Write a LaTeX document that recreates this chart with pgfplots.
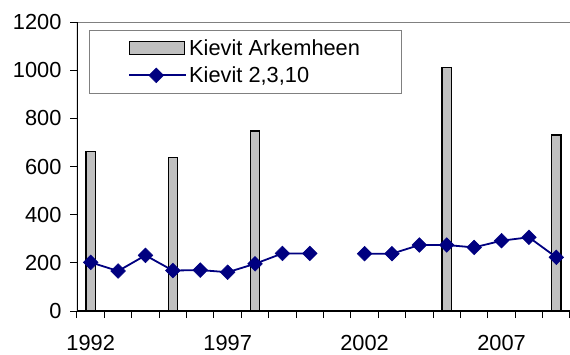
\documentclass[border=0pt]{standalone}
\usepackage{fontspec}
\setmainfont{Liberation Sans}
\usepackage{pgfplots}
\pgfplotsset{compat=1.18}
\definecolor{barfill}{HTML}{C0C0C0}
\definecolor{navyline}{HTML}{000080}
\definecolor{framegray}{HTML}{808080}
\pgfplotsset{
  barlegend/.style={legend image code/.code={\draw[##1] (0pt,-6.5pt) rectangle (55pt,6.5pt);}},
  linelegend/.style={legend image code/.code={\draw[##1, mark=none] (0pt,0pt) -- (57pt,0pt);
     \draw[##1] plot coordinates {(27pt,0pt)};}},
}
\begin{document}
\begin{tikzpicture}
\useasboundingbox (-77pt,-43pt) rectangle (493pt,311pt);
\begin{axis}[
  at={(0,0)}, anchor=south west,
  scale only axis, width=493pt, height=289pt,
  xmin=1991.5, xmax=2009.5, ymin=0, ymax=1200,
  ytick={0,200,...,1200},
  xtick={1991.5,1992.5,...,2009.5},
  xticklabels={},
  extra x ticks={1992,1997,2002,2007},
  extra x tick labels={1992,1997,2002,2007},
  extra x tick style={major tick length=0pt, tick label style={yshift=-21pt}},
  tick align=outside, major tick length=7pt,
  tick style={black, line width=1pt},
  axis line style={framegray, line width=0.8pt},
  xtick pos=bottom, ytick pos=left,
  /pgf/number format/assume math mode=true,
  /pgf/number format/set thousands separator={},
  tick label style={font=\fontsize{21.8}{24}\selectfont},
  yticklabel style={xshift=-5pt},
  unbounded coords=jump,
  legend style={at={(0.0243,0.9723)}, anchor=north west, draw=framegray, line width=0.8pt,
    font=\fontsize{21.8}{24}\selectfont, inner xsep=39pt, inner ysep=7pt,
    row sep=6pt, cells={anchor=west}},
  legend image post style={xshift=2pt},
]
\addplot[ybar, bar width=9.4pt, draw=black, line width=1.3pt, fill=barfill, barlegend]
  coordinates {(1992,661) (1995,637) (1998,747) (2005,1012) (2009,731)};
\addlegendentry{Kievit Arkemheen}
\addplot[navyline, line width=1.8pt, mark=square*, mark size=5.2pt,
  mark options={rotate=45, fill=navyline, draw=navyline, line width=0.5pt}, linelegend]
  coordinates {(1992,202) (1993,166) (1994,231) (1995,168) (1996,170) (1997,161)
    (1998,196) (1999,239) (2000,239) (2001,nan) (2002,238) (2003,238)
    (2004,274) (2005,274) (2006,264) (2007,292) (2008,306) (2009,223)};
\addlegendentry{Kievit 2,3,10}
\draw[black, line width=1.3pt] (rel axis cs:0,1) -- (rel axis cs:0,0) -- (rel axis cs:1,0);
\end{axis}
\end{tikzpicture}
\end{document}
